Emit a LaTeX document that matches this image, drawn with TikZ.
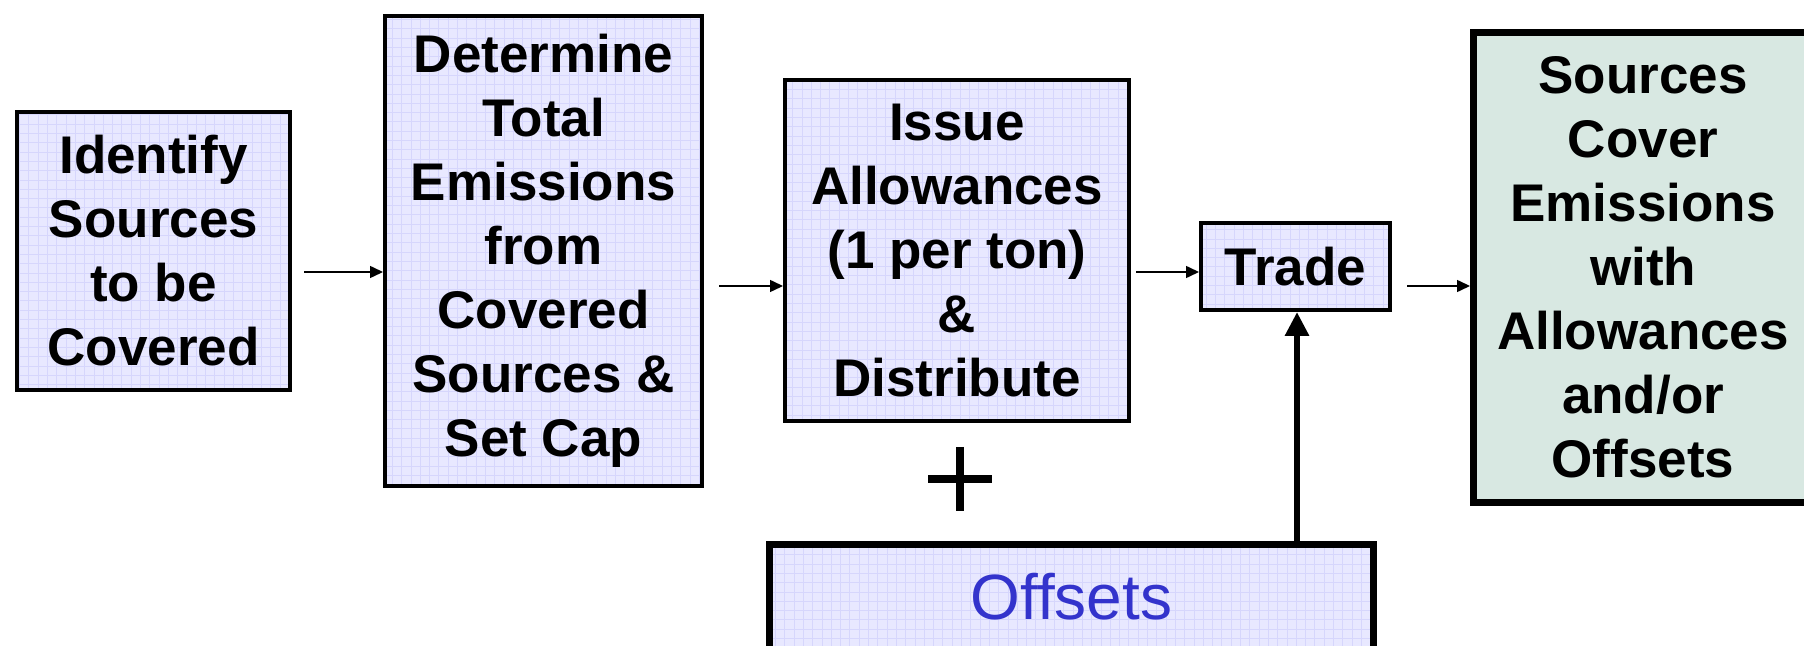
\documentclass[tikz,border=0pt]{standalone}
\usepackage{fontspec}
\setmainfont{Liberation Sans}
\usetikzlibrary{arrows.meta}
\definecolor{lavfill}{RGB}{232,232,255}
\definecolor{lavgrid}{RGB}{214,214,252}
\definecolor{sagefill}{RGB}{216,232,226}
\definecolor{offblue}{RGB}{51,51,204}
\tikzset{
  box/.style={draw=black, line width=2pt, fill=lavfill, align=center,
    inner sep=0pt, font=\fontsize{26.5}{32}\selectfont\bfseries},
  gridded/.style={path picture={\draw[lavgrid, line width=0.4pt, step=4.65pt]
      (path picture bounding box.south west) grid (path picture bounding box.north east);}},
  stage/.style={box, gridded},
  flow/.style={-{Triangle[length=6.5pt,width=6pt]}, line width=0.75pt},
  feed/.style={-{Triangle[length=12pt,width=11.5pt]}, line width=3pt},
}
\begin{document}
\begin{tikzpicture}[x=0.5pt, y=-0.5pt]
  \useasboundingbox (0,0) rectangle (1804,646);
  \node[stage, minimum width=136.5pt, minimum height=139pt] (identify) at (153.5,251)
    {Identify\\Sources\\to be\\Covered};
  \node[stage, minimum width=158.5pt, minimum height=235pt] (cap) at (543.5,251)
    {Determine\\Total\\Emissions\\from\\Covered\\Sources \&\\Set Cap};
  \node[stage, minimum width=172pt, minimum height=170.5pt] (issue) at (957,250.5)
    {Issue\\Allowances\\(1 per ton)\\\&\\Distribute};
  \node[stage, minimum width=94.5pt, minimum height=43.5pt] (trade) at (1295.5,266.5) {Trade};
  \node[box, line width=3.5pt, fill=sagefill, minimum width=169.5pt, minimum height=235pt]
    (cover) at (1643,267.5)
    {Sources\\Cover\\Emissions\\with\\Allowances\\and/or\\Offsets};
  \node[stage, line width=3.5pt, minimum width=302pt, minimum height=52.5pt,
    font=\fontsize{32}{38}\selectfont, text=offblue] (offsets) at (1071.5,597) {Offsets};

  % plus sign between issue and offsets
  \draw[line width=4pt] (928,479) -- (992,479) (960,447) -- (960,511);

  % thin flow arrows
  \coordinate (s1) at (304,272);
  \coordinate (s2) at (719,286);
  \coordinate (s3) at (1136,272);
  \coordinate (s4) at (1407,286);
  \draw[flow] (s1) -- (s1 -| cap.west);
  \draw[flow] (s2) -- (s2 -| issue.west);
  \draw[flow] (s3) -- (s3 -| trade.west);
  \draw[flow] (s4) -- (s4 -| cover.west);

  % offsets feed into trade
  \coordinate (lift) at (1297,541);
  \draw[feed] (lift |- offsets.north) -- (lift |- trade.south);
\end{tikzpicture}
\end{document}
